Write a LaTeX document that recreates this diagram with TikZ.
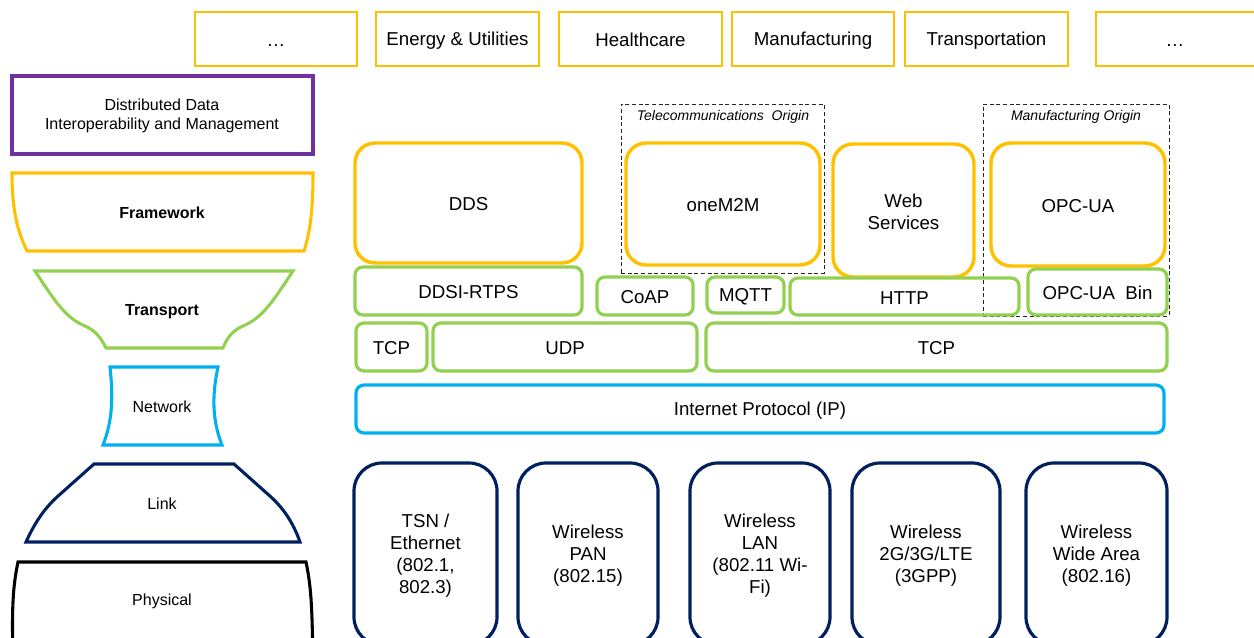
\documentclass[tikz,border=0pt]{standalone}
\usepackage{fontspec}
\setmainfont{Liberation Sans}
\definecolor{cyel}{HTML}{FFC000}
\definecolor{cgrn}{HTML}{92D050}
\definecolor{cblu}{HTML}{00B0F0}
\definecolor{cnav}{HTML}{002060}
\definecolor{cpur}{HTML}{7030A0}
\newcommand{\mystrut}{\rule[-1.5pt]{0pt}{14.5pt}}
\newcommand{\bx}[7]{\node[#2, minimum width={(#5-#3)*0.75pt}, minimum height={(#6-#4)*0.75pt}] (#1) at ({(#3+#5)/2},{(#4+#6)/2}) {\mystrut#7\mystrut};}
\tikzset{
  every node/.style={inner sep=0pt, outer sep=0pt, align=center, font=\fontsize{14}{16.5}\selectfont},
  topbox/.style={draw=cyel, line width=1.1pt, rectangle},
  fwbox/.style={draw=cyel, line width=2.6pt, rectangle, rounded corners=15pt},
  tpbox/.style={draw=cgrn, line width=2.4pt, rectangle, rounded corners=6pt},
  nwbox/.style={draw=cblu, line width=2.4pt, rectangle, rounded corners=6pt},
  lkbox/.style={draw=cnav, line width=2.4pt, rectangle, rounded corners=21pt},
  dashbox/.style={draw=black!85, line width=0.7pt, dash pattern=on 3pt off 2pt, rectangle},
  origin/.style={font=\fontsize{10.5}{12}\selectfont\itshape},
  leftlbl/.style={font=\fontsize{12}{14.25}\selectfont},
  leftbold/.style={font=\fontsize{12}{14.25}\selectfont\bfseries},
  lshape/.style={line width=2.3pt, line join=miter},
}
\begin{document}
\begin{tikzpicture}[x=0.75pt, y=-0.75pt]
\useasboundingbox (0,0) rectangle (1254,638);
\clip (0,0) rectangle (1254,638);

% top application domains
\bx{d1}{topbox}{195}{12}{357}{66}{…}
\bx{energy}{topbox}{376}{12}{539}{66}{Energy \& Utilities}
\bx{health}{topbox}{559}{12}{722}{66}{Healthcare}
\bx{manuf}{topbox}{732}{12}{894}{66}{Manufacturing}
\bx{transp}{topbox}{905}{12}{1068}{66}{Transportation}
\bx{d2}{topbox}{1096}{12}{1260}{66}{\hspace*{0pt}}
\node (d2t) at (1175,39) {\mystrut…\mystrut};

% left column layers
\draw[cpur, line width=2.6pt] (12,76) rectangle (313,154);
\node[leftlbl] (ddim) at (162,116) {Distributed Data\\Interoperability and Management};

\draw[cyel, lshape] (12,173) -- (313,173) .. controls (313,212) and (310,232) .. (304,251)
  -- (27,251) .. controls (18,232) and (12,212) .. (12,173) -- cycle;
\node[leftbold] (fwl) at (162,213) {Framework};

\draw[cgrn, lshape] (35,271) -- (293,271) .. controls (272,303) and (262,318) .. (243,326)
  .. controls (232,331) and (227,338) .. (223,348) -- (106,348)
  .. controls (101,338) and (96,331) .. (85,326) .. controls (66,318) and (56,303) .. (35,271) -- cycle;
\node[leftbold] (tpl) at (162,312) {Transport};

\draw[cblu, lshape] (110,367) -- (218,367) .. controls (212,395) and (212,420) .. (222,445)
  -- (103,445) .. controls (113,420) and (113,395) .. (110,367) -- cycle;
\node[leftlbl] (nwl) at (162,407) {Network};

\draw[cnav, lshape] (94,464) -- (234,464) -- (271,497) .. controls (283,508) and (293,522) .. (300,542)
  -- (26,542) .. controls (35,522) and (45,508) .. (57,497) -- cycle;
\node[leftlbl] (lkl) at (162,504) {Link};

\draw[black, lshape] (13,660) .. controls (12,615) and (12,590) .. (18,562) -- (306,562)
  .. controls (312,590) and (312,615) .. (313,660);
\node[leftlbl] (phl) at (162,601) {Physical};

% origin groups
\bx{telg}{dashbox}{621}{104}{824}{273}{}
\node[origin] (telt) at (723,117) {Telecommunications\ \ Origin};
\bx{mang}{dashbox}{983}{104}{1169}{316}{}
\node[origin] (mant) at (1076,117) {Manufacturing\ Origin};

% framework layer
\bx{dds}{fwbox}{355}{143}{582}{263}{DDS}
\bx{onem2m}{fwbox}{626}{143}{820}{265}{oneM2M}
\bx{web}{fwbox}{833}{144}{974}{277}{Web\\Services}
\bx{opcua}{fwbox}{991}{143}{1165}{266}{OPC-UA}

% transport layer
\bx{rtps}{tpbox}{355}{267}{582}{315}{DDSI-RTPS}
\bx{coap}{tpbox}{597}{277}{693}{315}{CoAP}
\bx{mqtt}{tpbox}{707}{277}{784}{313}{MQTT}
\bx{http}{tpbox}{790}{278}{1019}{315}{HTTP}
\bx{opcbin}{tpbox}{1028}{269}{1167}{315}{OPC-UA\ \ Bin}
\bx{tcp1}{tpbox}{356}{323}{427}{371}{TCP}
\bx{udp}{tpbox}{433}{323}{697}{371}{UDP}
\bx{tcp2}{tpbox}{706}{323}{1167}{371}{TCP}

% network layer
\bx{ip}{nwbox}{356}{385}{1164}{433}{Internet Protocol (IP)}

% link layer
\bx{eth}{lkbox}{354}{463}{497}{645}{TSN /\\Ethernet\\(802.1,\\802.3)}
\bx{pan}{lkbox}{518}{463}{658}{645}{Wireless\\PAN\\(802.15)}
\bx{lan}{lkbox}{690}{463}{830}{645}{Wireless\\LAN\\(802.11 Wi-\\Fi)}
\bx{cell}{lkbox}{852}{463}{1000}{645}{Wireless\\2G/3G/LTE\\(3GPP)}
\bx{wan}{lkbox}{1026}{463}{1167}{645}{Wireless\\Wide Area\\(802.16)}
\end{tikzpicture}
\end{document}
